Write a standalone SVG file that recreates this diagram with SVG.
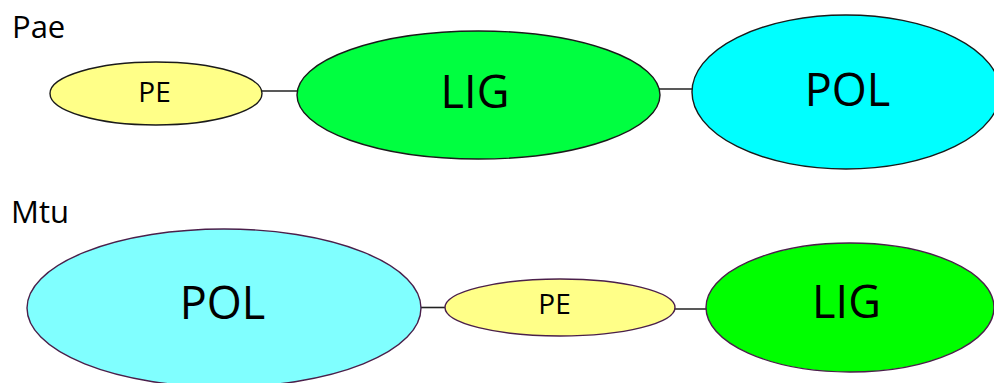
<svg xmlns="http://www.w3.org/2000/svg" width="994" height="383" viewBox="0 0 994 383">
  <style>
    text { font-family: "Open Sans", "Noto Sans", "Liberation Sans", sans-serif; fill: #000; }
    .title { font-size: 31px; }
    .lbl { text-anchor: middle; }
    .big { font-size: 45px; }
    .small { font-size: 28px; }
    .top { stroke: #1a1a1a; stroke-width: 1.4; }
    .bot { stroke: #4a1f4a; stroke-width: 1.4; }
    .pe { fill: #ffff88; }
    .link { stroke: #222; stroke-width: 1.6; fill: none; }
  </style>
  <rect width="994" height="383" fill="#fff"/>

  <!-- species labels -->
  <text class="title" x="12" y="38">Pae</text>
  <text class="title" x="11" y="223">Mtu</text>

  <!-- domain linkers -->
  <g id="connectors">
    <line class="link" x1="261" y1="91" x2="298" y2="91"/>
    <line class="link" x1="659" y1="89" x2="693" y2="89"/>
    <line class="link" x1="420" y1="307.5" x2="446" y2="307.5"/>
    <line class="link" x1="674" y1="309" x2="707" y2="309"/>
  </g>

  <!-- Pae domains -->
  <g id="pae-pe">
    <ellipse class="pe top" cx="156" cy="93.5" rx="106" ry="31.5"/>
    <text class="lbl small" x="154.5" y="102">PE</text>
  </g>
  <g id="pae-lig">
    <ellipse class="top" cx="478.5" cy="95" rx="181.5" ry="64" fill="#00ff40"/>
    <text class="lbl big" x="475" y="108">LIG</text>
  </g>
  <g id="pae-pol">
    <ellipse class="top" cx="846" cy="92" rx="154" ry="77" fill="#00ffff"/>
    <text class="lbl big" x="847.5" y="106">POL</text>
  </g>

  <!-- Mtu domains -->
  <g id="mtu-pol">
    <ellipse class="bot" cx="224" cy="308" rx="197" ry="79" fill="#80ffff"/>
    <text class="lbl big" x="222.5" y="319">POL</text>
  </g>
  <g id="mtu-pe">
    <ellipse class="pe bot" cx="560" cy="307.5" rx="115" ry="28.5"/>
    <text class="lbl small" x="554.5" y="314">PE</text>
  </g>
  <g id="mtu-lig">
    <ellipse class="bot" cx="850" cy="307.5" rx="144" ry="64.5" fill="#00ff00"/>
    <text class="lbl big" x="846.5" y="318">LIG</text>
  </g>
</svg>
